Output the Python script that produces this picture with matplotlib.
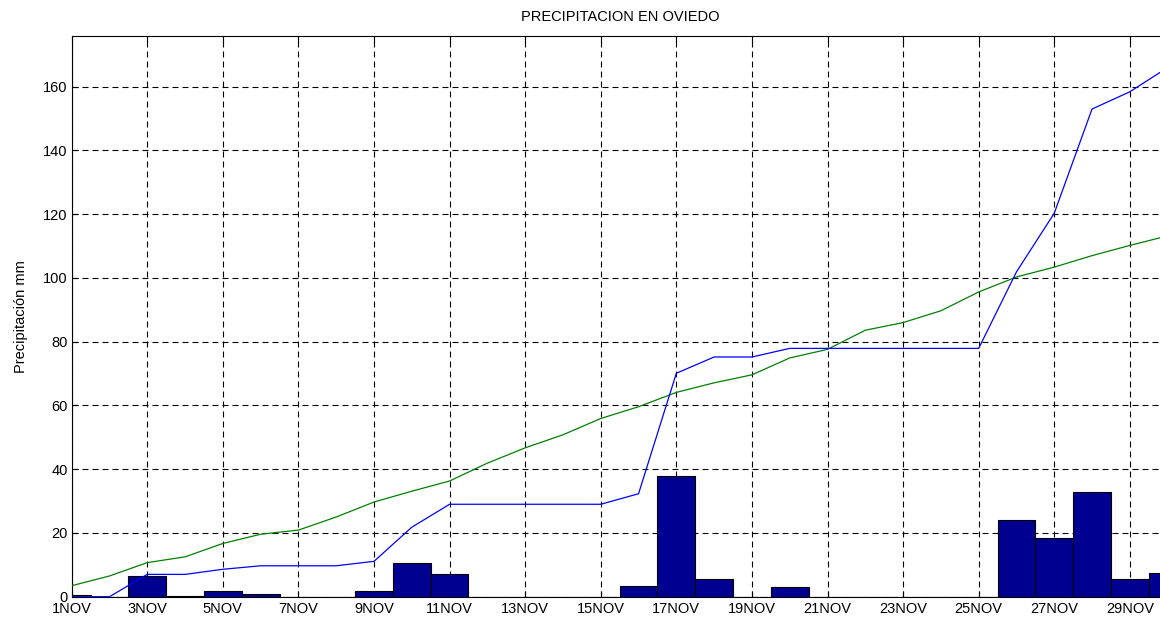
import numpy as np
import matplotlib
matplotlib.use("Agg")
import matplotlib.pyplot as plt

plt.rcParams['font.family'] = ['Liberation Sans', 'DejaVu Sans']
plt.rcParams['lines.scale_dashes'] = False

# daily precipitation (mm), November
days = np.arange(1, 31)
daily = [0.5, 0.0, 6.5, 0.3, 1.9, 0.95, 0.0, 0.0, 1.9, 10.6,
         7.0, 0.0, 0.0, 0.0, 0.0, 3.35, 37.8, 5.5, 0.0, 2.9,
         0.0, 0.0, 0.0, 0.0, 0.0, 24.0, 18.4, 32.8, 5.4, 7.5]

# accumulated precipitation this year
accum = [0.0, 0.0, 7.0, 7.0, 8.6, 9.7, 9.7, 9.7, 11.1, 21.8,
         29.0, 29.0, 29.0, 29.0, 29.0, 32.3, 70.1, 75.2, 75.2, 77.9,
         77.9, 77.9, 77.9, 77.9, 77.9, 101.9, 120.3, 153.0, 158.4, 166.0]

# accumulated normal precipitation
normal = [3.45, 6.5, 10.7, 12.5, 16.7, 19.6, 20.9, 25.0, 29.7, 33.1,
          36.3, 41.9, 46.7, 50.8, 55.9, 59.6, 64.1, 67.1, 69.6, 74.9,
          77.6, 83.6, 86.0, 89.7, 95.6, 100.3, 103.4, 107.0, 110.2, 113.2]

tick_days = np.arange(1, 31, 2)
tick_labels = [f"{d}NOV" for d in tick_days]

W, H = 1160, 617
fig = plt.figure(figsize=(W / 100, H / 100), dpi=100)

px_day = 37.79
left = 71.7
bottom = H - 596.7
top = H - 35.7
ax = fig.add_axes([left / W, bottom / H, 30 * px_day / W, (top - bottom) / H])

ax.set_axisbelow(True)
ax.grid(True, color='k', linestyle=(0, (4.3, 2.9)), linewidth=0.8)

ax.bar(days, daily, width=1.0, color='#000090', edgecolor='k', linewidth=0.8, zorder=2)
ax.plot(days, normal, color='#008000', linewidth=0.9, zorder=3)
ax.plot(days, accum, color='#0000ff', linewidth=0.9, zorder=3)

ax.set_xlim(1, 31)
ax.set_ylim(0, 176)
ax.set_xticks(tick_days)
ax.set_xticklabels(tick_labels)
ax.set_yticks(np.arange(0, 161, 20))
ax.tick_params(direction='in', length=4, labelsize=10.5, top=True, pad=3)
ax.tick_params(axis='x', pad=4)
ax.spines['right'].set_visible(False)
for s in ax.spines.values():
    s.set_linewidth(0.8)

ax.set_ylabel('Precipitación mm', fontsize=10.5, labelpad=11)
fig.text(620 / W, 1 - 17 / H, 'PRECIPITACION EN OVIEDO', ha='center', va='center', fontsize=10.5)

fig.savefig('out.png', dpi=100)
